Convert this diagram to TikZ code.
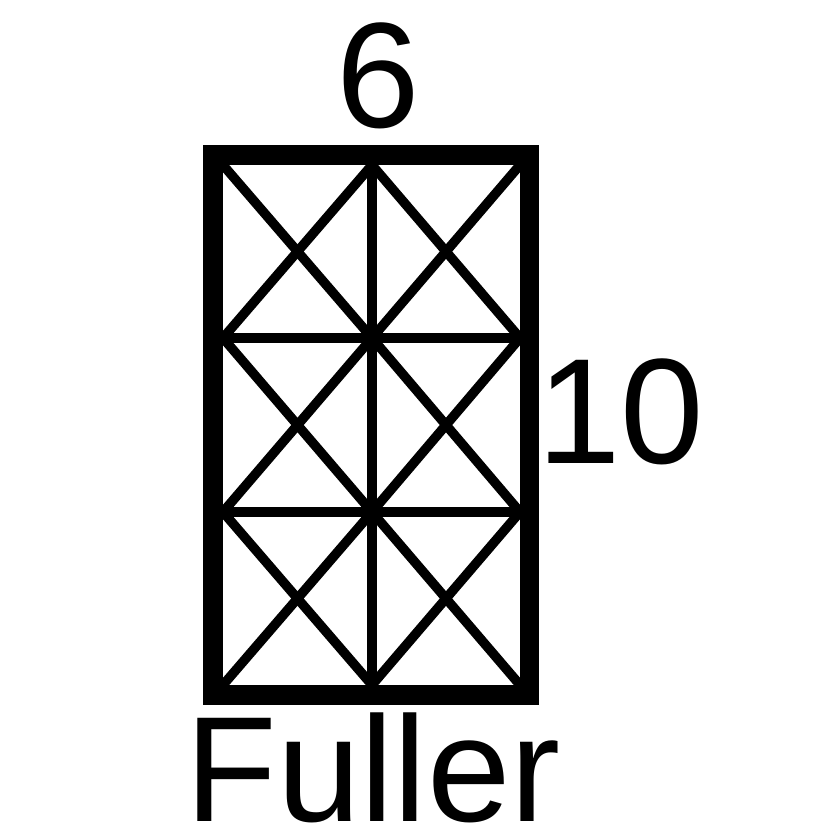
\documentclass[tikz,border=0pt]{standalone}
\usepackage{fontspec}
\setmainfont{Liberation Sans}
\newcommand{\bigtext}{\fontsize{85.4}{100}\selectfont}
\begin{document}
\begin{tikzpicture}[x=0.02cm, y=-0.02cm, every path/.style={line width=0.19cm},
    label/.style={anchor=base, inner sep=0pt, font=\bigtext}]

    \useasboundingbox (0,0) rectangle (823,840);

    % grid points inside the frame
    \foreach \x [count=\i from 0] in {223,372,520}
        \foreach \y [count=\j from 0] in {165,338,512,685}
            \coordinate (p\i\j) at (\x,\y);

    \draw[] (p10) to (p13);
    \draw[] (p01) to (p21);
    \draw[] (p02) to (p22);

    \foreach \i/\ii in {0/1,1/2}
        \foreach \j/\jj in {0/1,1/2,2/3} {
            \draw[] (p\i\j) to (p\ii\jj);
            \draw[] (p\ii\j) to (p\i\jj);
        }

    \coordinate (tl) at (213,155);
    \coordinate (br) at (529.5,695);
    \draw[line width=0.4cm] (tl) rectangle (br);

    \node[label] (width) at (378,127) {6};
    \node[label] (height) at (621,463) {10};
    \node[label] (name) at (373,821) {Fuller};

\end{tikzpicture}
\end{document}
